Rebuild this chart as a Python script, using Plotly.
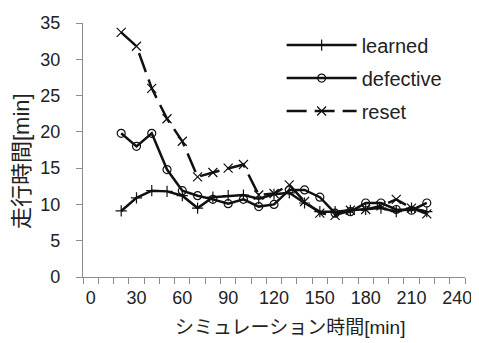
import plotly.graph_objects as go

sim_time = [20, 30, 40, 50, 60, 70, 80, 90, 100, 110, 120, 130, 140, 150, 160, 170, 180, 190, 200, 210, 220]
learned = [9.1, 10.9, 11.9, 11.8, 11.2, 9.5, 11.0, 11.2, 11.3, 10.8, 11.4, 11.6, 10.2, 9.0, 9.0, 9.2, 9.3, 9.5, 9.0, 9.5, 9.0]
defective = [19.8, 18.0, 19.8, 14.8, 11.9, 11.2, 10.7, 10.1, 10.7, 9.7, 10.0, 12.0, 12.0, 11.0, 8.8, 9.0, 10.2, 10.2, 9.3, 9.2, 10.2]
reset = [33.7, 31.8, 26.0, 21.8, 18.7, 13.8, 14.4, 15.0, 15.5, 11.3, 11.5, 12.7, 10.4, 8.8, 8.5, 9.2, 9.3, 9.8, 10.7, 9.5, 8.7]
x_ticks = [0, 30, 60, 90, 120, 150, 180, 210, 240]
y_ticks = [0, 5, 10, 15, 20, 25, 30, 35]
x_title = "シミュレーション時間[min]"
y_title = "走行時間[min]"

FONT = "Liberation Sans, Arial, Noto Sans CJK JP, sans-serif"
AX = "#8c8c8c"

fig = go.Figure()
fig.add_trace(go.Scatter(
    x=sim_time, y=learned, name="learned", mode="lines+markers", legendgroup="a",
    line=dict(color="#111111", width=2.5),
    marker=dict(symbol="cross-thin-open", size=8, line=dict(color="#222222", width=1.2)),
))
fig.add_trace(go.Scatter(
    x=sim_time, y=defective, name="defective", mode="lines+markers", legendgroup="b",
    line=dict(color="#111111", width=2.5),
    marker=dict(symbol="circle-open", size=8, line=dict(color="#333333", width=1.2)),
))
fig.add_trace(go.Scatter(
    x=sim_time, y=reset, name="reset", mode="lines+markers", legendgroup="c",
    line=dict(color="#111111", width=2.5, dash="20px,8px"),
    marker=dict(symbol="x-thin-open", size=9, line=dict(color="#444444", width=1.2)),
))

# page body has an 8px default margin, so the figure is 8px smaller and shifted
W, H = 471, 335
L, R, T, B = 75, 14, 15, 66
fig.update_layout(
    width=W, height=H,
    margin=dict(l=L, r=R, t=T, b=B),
    paper_bgcolor="white", plot_bgcolor="white",
    font=dict(family=FONT, size=18, color="#222222"),
    legend=dict(
        x=0.52, y=0.99, xanchor="left", yanchor="top",
        font=dict(size=20, family=FONT, color="#222222"),
        bgcolor="rgba(0,0,0,0)", itemwidth=70, tracegroupgap=4,
    ),
    xaxis=dict(
        range=[-5, 245], tickmode="array", tickvals=x_ticks,
        ticktext=[str(v) for v in x_ticks], ticks="", automargin=False,
        showline=True, linecolor=AX, linewidth=1.3, showgrid=False, zeroline=False,
        minor=dict(tickmode="linear", tick0=-5, dtick=10, ticks="outside",
                   ticklen=6, tickcolor=AX, tickwidth=1.3, showgrid=False),
        tickfont=dict(size=18), ticklabelstandoff=4,
    ),
    yaxis=dict(
        range=[0, 35], tickmode="array", tickvals=y_ticks, ticks="outside",
        ticklen=6, tickcolor=AX, tickwidth=1.3, automargin=False,
        showline=True, linecolor=AX, linewidth=1.3, showgrid=False, zeroline=False,
        tickfont=dict(size=18), ticklabelstandoff=12,
    ),
    annotations=[
        dict(text=x_title, xref="paper", yref="paper",
             x=(282 - L) / (W - L - R), y=-(319 - (H - B)) / (H - T - B),
             xanchor="center", yanchor="middle", showarrow=False,
             font=dict(size=19, family=FONT, color="#222222")),
        dict(text=y_title, xref="paper", yref="paper", textangle=-90,
             x=-(L - 14) / (W - L - R), y=((H - B) - 153) / (H - T - B),
             xanchor="center", yanchor="middle", showarrow=False,
             font=dict(size=22, family=FONT, color="#222222")),
    ],
)

fig.write_html("out.html")
